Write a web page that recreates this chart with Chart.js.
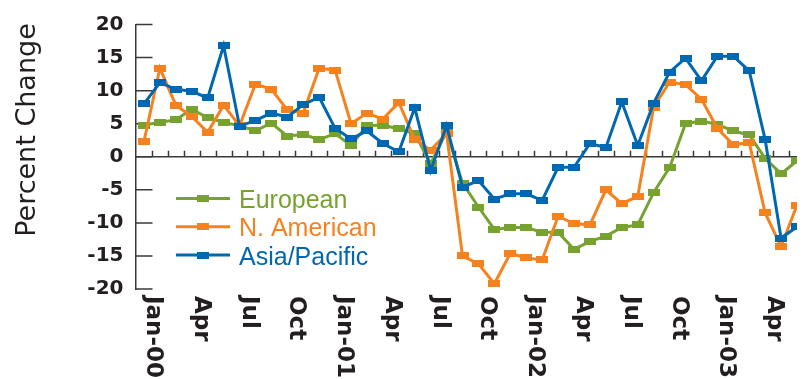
<!DOCTYPE html>
<html>
<head>
<meta charset="utf-8">
<script src="https://cdn.jsdelivr.net/npm/chart.js@4.4.1/dist/chart.umd.min.js"></script>
<style>
  html, body { margin: 0; padding: 0; background: #ffffff; }
  canvas { display: block; }
</style>
</head>
<body>
<canvas id="chart" width="805" height="379"></canvas>
<script>
// Monthly percent change by region
const months = [
  'Jan-00','Feb-00','Mar-00','Apr-00','May-00','Jun-00','Jul-00','Aug-00','Sep-00','Oct-00','Nov-00','Dec-00',
  'Jan-01','Feb-01','Mar-01','Apr-01','May-01','Jun-01','Jul-01','Aug-01','Sep-01','Oct-01','Nov-01','Dec-01',
  'Jan-02','Feb-02','Mar-02','Apr-02','May-02','Jun-02','Jul-02','Aug-02','Sep-02','Oct-02','Nov-02','Dec-02',
  'Jan-03','Feb-03','Mar-03','Apr-03','May-03','Jun-03'
];

const european = [
  4.8, 5.2, 5.6, 7.2, 5.9, 5.2, 4.7, 3.9, 5.1, 3.1, 3.4, 2.6,
  3.5, 1.7, 4.7, 4.8, 4.2, 3.5, -1.05, 3.8, -4.0, -7.6, -11.0, -10.7,
  -10.7, -11.4, -11.4, -14.0, -12.8, -12.0, -10.7, -10.3, -5.4, -1.65, 5.0, 5.4,
  4.9, 3.9, 3.3, -0.25, -2.6, -0.6
];

const nAmerican = [
  2.3, 13.4, 7.8, 6.1, 3.7, 7.8, 4.7, 11.0, 10.2, 7.1, 6.6, 13.4,
  13.1, 5.0, 6.6, 5.7, 8.2, 2.6, 1.0, 3.5, -15.0, -16.2, -19.2, -14.6,
  -15.3, -15.6, -9.0, -10.1, -10.3, -5.0, -7.1, -6.0, 7.5, 11.3, 10.9, 8.7,
  4.3, 1.8, 2.15, -8.5, -13.6, -7.3
];

const asiaPacific = [
  8.0, 11.2, 10.2, 9.9, 8.9, 16.8, 4.6, 5.5, 6.6, 6.0, 7.9, 9.0,
  4.3, 2.7, 3.9, 2.0, 0.75, 7.4, -2.1, 4.7, -4.6, -3.6, -6.4, -5.6,
  -5.6, -6.6, -1.6, -1.6, 2.0, 1.4, 8.3, 1.7, 8.1, 12.8, 14.9, 11.5,
  15.2, 15.2, 13.0, 2.6, -12.3, -10.6
];

// Quarterly axis labels, one for every third month boundary
const axisLabels = ['Jan-00','Apr','Jul','Oct','Jan-01','Apr','Jul','Oct','Jan-02','Apr','Jul','Oct','Jan-03','Apr'];

const seriesNames = ['European', 'N. American', 'Asia/Pacific'];
const seriesColors = ['#78a22f', '#f5821f', '#0067b1'];
const yTitle = 'Percent Change';

const INK = '#231f20';
const AXIS = '#3a3a3a';

// Flat rectangular marker used for every data point and legend entry
function makeMarker(color) {
  const c = document.createElement('canvas');
  c.width = 12;
  c.height = 7;
  const g = c.getContext('2d');
  g.fillStyle = color;
  g.fillRect(0, 0, 12, 7);
  return c;
}
const markers = seriesColors.map(makeMarker);

const seriesValues = [european, nAmerican, asiaPacific];
const drawOrder = [3, 2, 1]; // Asia/Pacific on top, European underneath

const datasets = seriesValues.map((vals, s) => ({
  label: seriesNames[s],
  data: vals.map((v, i) => ({ x: i, y: v })),
  borderColor: seriesColors[s],
  backgroundColor: seriesColors[s],
  borderWidth: 3,
  tension: 0,
  pointStyle: markers[s],
  pointRadius: 5,
  pointHoverRadius: 5,
  order: drawOrder[s],
  fill: false
}));

const decorations = {
  id: 'decorations',
  beforeDatasetsDraw(chart) {
    const { ctx, chartArea, scales } = chart;
    const xs = scales.x, ys = scales.y;
    const y0 = ys.getPixelForValue(0);
    ctx.save();
    ctx.strokeStyle = AXIS;
    ctx.lineWidth = 1.5;

    // Zero line across the plot
    ctx.beginPath();
    ctx.moveTo(chartArea.left, y0);
    ctx.lineTo(chartArea.right, y0);
    ctx.stroke();

    // Month boundary ticks standing on the zero line
    ctx.beginPath();
    for (let k = 0; k < months.length - 1; k++) {
      const px = Math.round(xs.getPixelForValue(k + 0.5)) + 0.5;
      ctx.moveTo(px, y0);
      ctx.lineTo(px, y0 - 6);
    }
    ctx.stroke();

    // Inward ticks on the value axis
    ctx.beginPath();
    ys.ticks.forEach(t => {
      const py = ys.getPixelForValue(t.value);
      ctx.moveTo(chartArea.left, py);
      ctx.lineTo(chartArea.left + 16.5, py);
    });
    ctx.stroke();

    // Quarterly labels, reading downward
    ctx.fillStyle = INK;
    ctx.font = 'bold 23px "DejaVu Sans"';
    ctx.textAlign = 'left';
    ctx.textBaseline = 'middle';
    axisLabels.forEach((lab, j) => {
      const px = xs.getPixelForValue(j * 3 + 0.5);
      ctx.save();
      ctx.translate(px + 1, chartArea.bottom + 7);
      ctx.rotate(Math.PI / 2);
      ctx.fillText(lab, 0, 0);
      ctx.restore();
    });

    // Value axis title
    ctx.font = '27px "DejaVu Sans"';
    ctx.textAlign = 'center';
    ctx.textBaseline = 'alphabetic';
    ctx.save();
    ctx.translate(35, 130);
    ctx.rotate(-Math.PI / 2);
    ctx.fillText(yTitle, 0, 0);
    ctx.restore();

    ctx.restore();
  },
  afterDraw(chart) {
    // Legend inside the plot, lower left
    const { ctx } = chart;
    ctx.save();
    chart.data.datasets.forEach((ds, i) => {
      const cy = 198.5 + i * 28.3;
      ctx.strokeStyle = ds.borderColor;
      ctx.lineWidth = 3;
      ctx.beginPath();
      ctx.moveTo(176, cy);
      ctx.lineTo(230, cy);
      ctx.stroke();
      const m = ds.pointStyle;
      ctx.drawImage(m, 203 - m.width / 2, cy - m.height / 2);
      ctx.fillStyle = ds.borderColor;
      ctx.font = '25px "Liberation Sans"';
      ctx.textAlign = 'left';
      ctx.textBaseline = 'alphabetic';
      ctx.fillText(ds.label, 239, cy + 9.5);
    });
    ctx.restore();
  }
};

new Chart(document.getElementById('chart'), {
  type: 'line',
  data: { datasets },
  options: {
    responsive: false,
    animation: false,
    events: [],
    layout: { padding: { top: 22.5, bottom: 90, left: 0, right: 0 } },
    plugins: {
      legend: { display: false },
      tooltip: { enabled: false }
    },
    scales: {
      x: {
        type: 'linear',
        min: -0.5,
        max: 41,
        display: false
      },
      y: {
        min: -20,
        max: 20,
        ticks: {
          stepSize: 5,
          color: INK,
          padding: 12.5,
          font: { family: 'DejaVu Sans', weight: 'bold', size: 20 }
        },
        grid: { drawOnChartArea: false, drawTicks: false },
        border: { display: true, color: AXIS, width: 1.5 },
        afterFit(scale) { scale.width = 136; }
      }
    }
  },
  plugins: [decorations]
});
</script>
</body>
</html>
